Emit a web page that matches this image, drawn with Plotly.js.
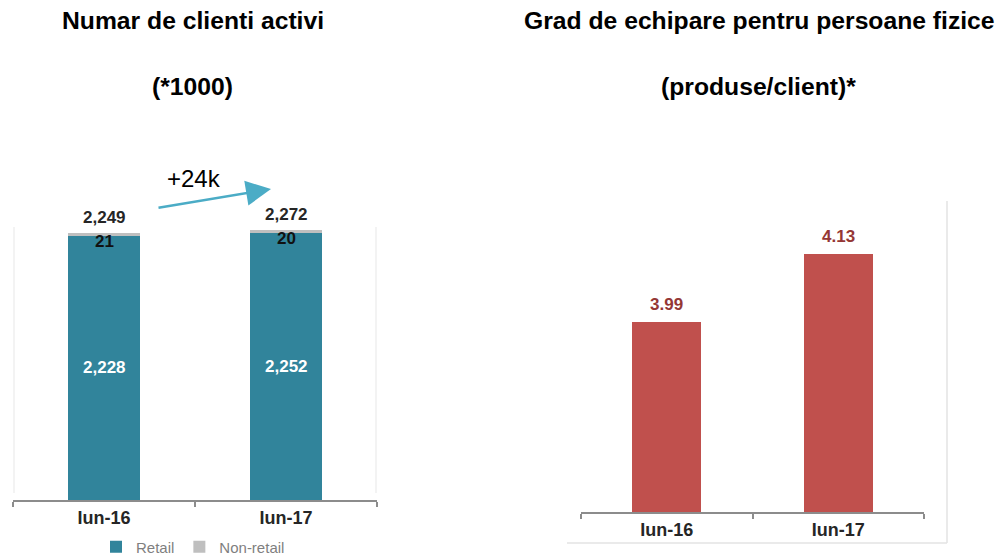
<!DOCTYPE html>
<html>
<head>
<meta charset="utf-8">
<script src="https://cdn.plot.ly/plotly-3.0.1.min.js"></script>
<style>html,body{margin:0;padding:0;background:#fff;}#chart{width:999px;height:557px;}</style>
</head>
<body>
<div id="chart"></div>
<script>
// ---- data ----
const categories = ["Iun-16", "Iun-17"];
const retail = [2228, 2252];
const nonRetail = [21, 20];
const gradEchipare = [3.99, 4.13];
const titleLeft = "Numar de clienti activi";
const subLeft = "(*1000)";
const titleRight = "Grad de echipare pentru persoane fizice";
const subRight = "(produse/client)*";
const deltaLabel = "+24k";

const totals = retail.map((v, i) => v + nonRetail[i]);
const fmt = v => v.toLocaleString("en-US");

const FONT = "Liberation Sans, Arial, sans-serif";
const TEAL = "#31849B";
const GREY = "#BFBFBF";
const RED = "#C0504D";
const AXIS = "#8C8C8C";

const traces = [
  {
    type: "bar", name: "Retail", x: categories, y: retail,
    xaxis: "x", yaxis: "y", width: 0.4,
    marker: {color: TEAL}, textposition: "none",
    hoverinfo: "skip"
  },
  {
    type: "bar", name: "Non-retail", x: categories, y: nonRetail,
    xaxis: "x", yaxis: "y", width: 0.4,
    marker: {color: GREY}, textposition: "none",
    hoverinfo: "skip"
  },
  {
    type: "bar", name: "Grad", x: categories, y: gradEchipare,
    xaxis: "x2", yaxis: "y2", width: 0.4,
    marker: {color: RED}, showlegend: false, textposition: "none",
    hoverinfo: "skip"
  }
];

const annotations = [];
function txt(x, y, text, size, bold, color, extra) {
  annotations.push(Object.assign({
    xref: "paper", yref: "paper", x: x, y: y, text: text, showarrow: false,
    xanchor: "center", yanchor: "middle",
    font: {family: FONT, size: size, color: color, weight: bold ? "bold" : "normal"}
  }, extra || {}));
}
txt(193/999, 1 - 20/557, titleLeft, 24.7, true, "#000");
txt(192/999, 1 - 87/557, subLeft, 24.7, true, "#000");
txt(759/999, 1 - 20/557, titleRight, 24.7, true, "#000");
txt(758/999, 1 - 87/557, subRight, 24.7, true, "#000");
txt(194/999, 1 - 178/557, deltaLabel, 24, false, "#000");

// arrow
annotations.push({
  xref: "paper", yref: "paper", x: 271/999, y: 1 - 189/557,
  ax: -114, ay: 19, showarrow: true, arrowhead: 2, arrowsize: 2,
  arrowwidth: 2.5, arrowcolor: "#4BACC6", standoff: 0, text: ""
});

categories.forEach((c, i) => {
  annotations.push({
    xref: "x", yref: "y", x: c, y: totals[i], text: fmt(totals[i]),
    showarrow: false, yanchor: "middle", yshift: 16,
    font: {family: FONT, size: 17, color: "#262626", weight: "bold"}
  });
  annotations.push({
    xref: "x", yref: "y", x: c, y: totals[i], text: fmt(nonRetail[i]),
    showarrow: false, yanchor: "middle", yshift: -8,
    font: {family: FONT, size: 17, color: "#111", weight: "bold"}
  });
  annotations.push({
    xref: "x", yref: "y", x: c, y: retail[i] / 2, text: fmt(retail[i]),
    showarrow: false, yanchor: "middle", yshift: 0,
    font: {family: FONT, size: 17, color: "#FFFFFF", weight: "bold"}
  });
  annotations.push({
    xref: "x2", yref: "y2", x: c, y: gradEchipare[i], text: gradEchipare[i].toFixed(2),
    showarrow: false, yanchor: "middle", yshift: 18,
    font: {family: FONT, size: 17, color: "#953735", weight: "bold"}
  });
});

const shapes = [
  {type: "line", xref: "paper", yref: "paper", x0: 14/999, x1: 14/999, y0: 1 - 227/557, y1: 1 - 493/557, line: {color: "#EFEFEF", width: 1.5}},
  {type: "line", xref: "paper", yref: "paper", x0: 376/999, x1: 376/999, y0: 1 - 227/557, y1: 1 - 493/557, line: {color: "#EFEFEF", width: 1.5}},
  {type: "line", xref: "paper", yref: "paper", x0: 947/999, x1: 947/999, y0: 1 - 201/557, y1: 1 - 543/557, line: {color: "#E3E3E3", width: 1.5}},
  {type: "line", xref: "paper", yref: "paper", x0: 567/999, x1: 947/999, y0: 1 - 543/557, y1: 1 - 543/557, line: {color: "#E3E3E3", width: 1.5}}
];

const xCommon = {
  type: "category", showline: true, linecolor: AXIS, linewidth: 2,
  ticks: "outside", tickson: "boundaries", ticklen: 5, tickwidth: 2, tickcolor: AXIS,
  showgrid: false, zeroline: false, fixedrange: true, automargin: false,
  tickfont: {family: FONT, size: 18, color: "#262626", weight: "bold"}
};

const layout = {
  width: 999, height: 557,
  margin: {l: 0, r: 0, t: 0, b: 0, autoexpand: false},
  paper_bgcolor: "#fff", plot_bgcolor: "rgba(0,0,0,0)",
  barmode: "stack",
  showlegend: true,
  legend: {
    orientation: "h", x: 193/999, xanchor: "center", y: 1 - 547/557, yanchor: "middle",
    font: {family: FONT, size: 15, color: "#7F7F7F"},
    itemwidth: 30, tracegroupgap: 0, traceorder: "normal"
  },
  xaxis: Object.assign({}, xCommon, {domain: [13/999, 377/999], anchor: "y", range: [-0.5, 1.5]}),
  yaxis: {domain: [1 - 500/557, 1 - 227/557], range: [0, 2300], visible: false, anchor: "x", fixedrange: true},
  xaxis2: Object.assign({}, xCommon, {domain: [581/999, 924/999], anchor: "y2", range: [-0.5, 1.5]}),
  yaxis2: {domain: [1 - 512/557, 1 - 201/557], range: [3.6, 4.24], visible: false, anchor: "x2", fixedrange: true},
  annotations: annotations,
  shapes: shapes,
  font: {family: FONT}
};

Plotly.newPlot("chart", traces, layout, {displayModeBar: false, staticPlot: true});
</script>
</body>
</html>
